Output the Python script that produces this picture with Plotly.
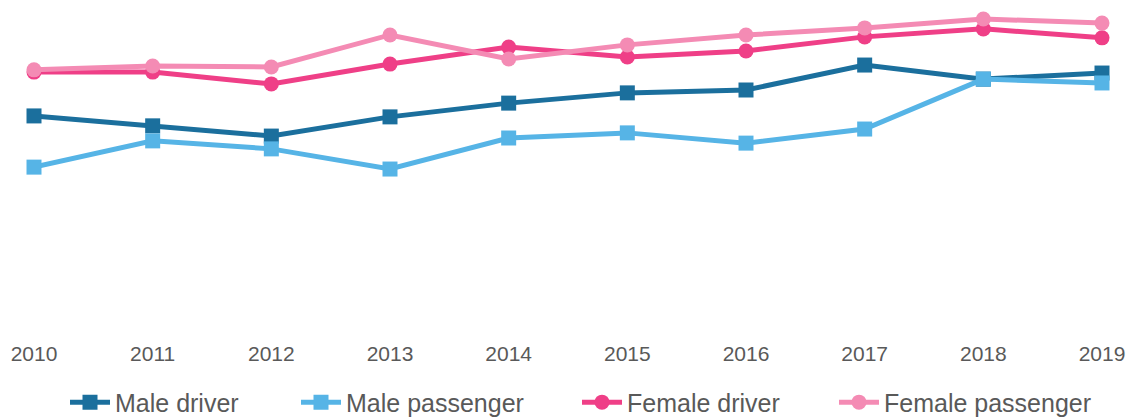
import plotly.graph_objects as go

years = [2010, 2011, 2012, 2013, 2014, 2015, 2016, 2017, 2018, 2019]

male_driver = [66.9, 63.8, 60.6, 66.6, 70.9, 74.1, 75.0, 82.8, 78.4, 80.3]
male_passenger = [50.9, 59.1, 56.6, 50.3, 60.0, 61.6, 58.4, 62.8, 78.4, 77.2]
female_driver = [80.6, 80.6, 76.9, 83.1, 88.4, 85.3, 87.2, 91.6, 94.1, 91.3]
female_passenger = [81.3, 82.5, 82.2, 92.2, 84.7, 89.1, 92.2, 94.4, 97.2, 95.9]

series = [
    ("Male driver", male_driver, "#1b6f9d", "square"),
    ("Male passenger", male_passenger, "#56b4e6", "square"),
    ("Female driver", female_driver, "#ef3f87", "circle"),
    ("Female passenger", female_passenger, "#f48bb4", "circle"),
]

# left edge (px) of each legend entry's label
legend_text_x = [116, 347, 628, 885]

FONT = "Liberation Sans, Arial, sans-serif"
W, H = 1133, 417

fig = go.Figure()
legend_layout = {}
for i, (name, vals, color, sym) in enumerate(series):
    key = "legend" if i == 0 else f"legend{i + 1}"
    fig.add_trace(go.Scatter(
        x=years, y=vals, name=name, mode="lines+markers",
        line=dict(color=color, width=5),
        marker=dict(symbol=sym, size=15, color=color),
        cliponaxis=False, legend=key,
    ))
    legend_layout[key] = dict(
        orientation="h", xref="container", yref="container",
        x=(legend_text_x[i] - 51) / W, xanchor="left",
        y=0.035, yanchor="middle",
        font=dict(size=25, family=FONT, color="#595959"),
        itemwidth=40, bgcolor="rgba(0,0,0,0)",
    )

fig.update_layout(
    width=W, height=H,
    margin=dict(l=34, r=31, t=10, b=87, autoexpand=False),
    paper_bgcolor="white", plot_bgcolor="white",
    font=dict(family=FONT, color="#595959", size=21),
    xaxis=dict(range=[2010, 2019], tickvals=years, ticktext=[str(y) for y in years],
               showgrid=False, zeroline=False, showline=False, ticks="",
               tickfont=dict(size=21), ticklabelstandoff=9),
    yaxis=dict(range=[0, 100], visible=False),
    showlegend=True,
    **legend_layout,
)

fig.write_html("out.html")
